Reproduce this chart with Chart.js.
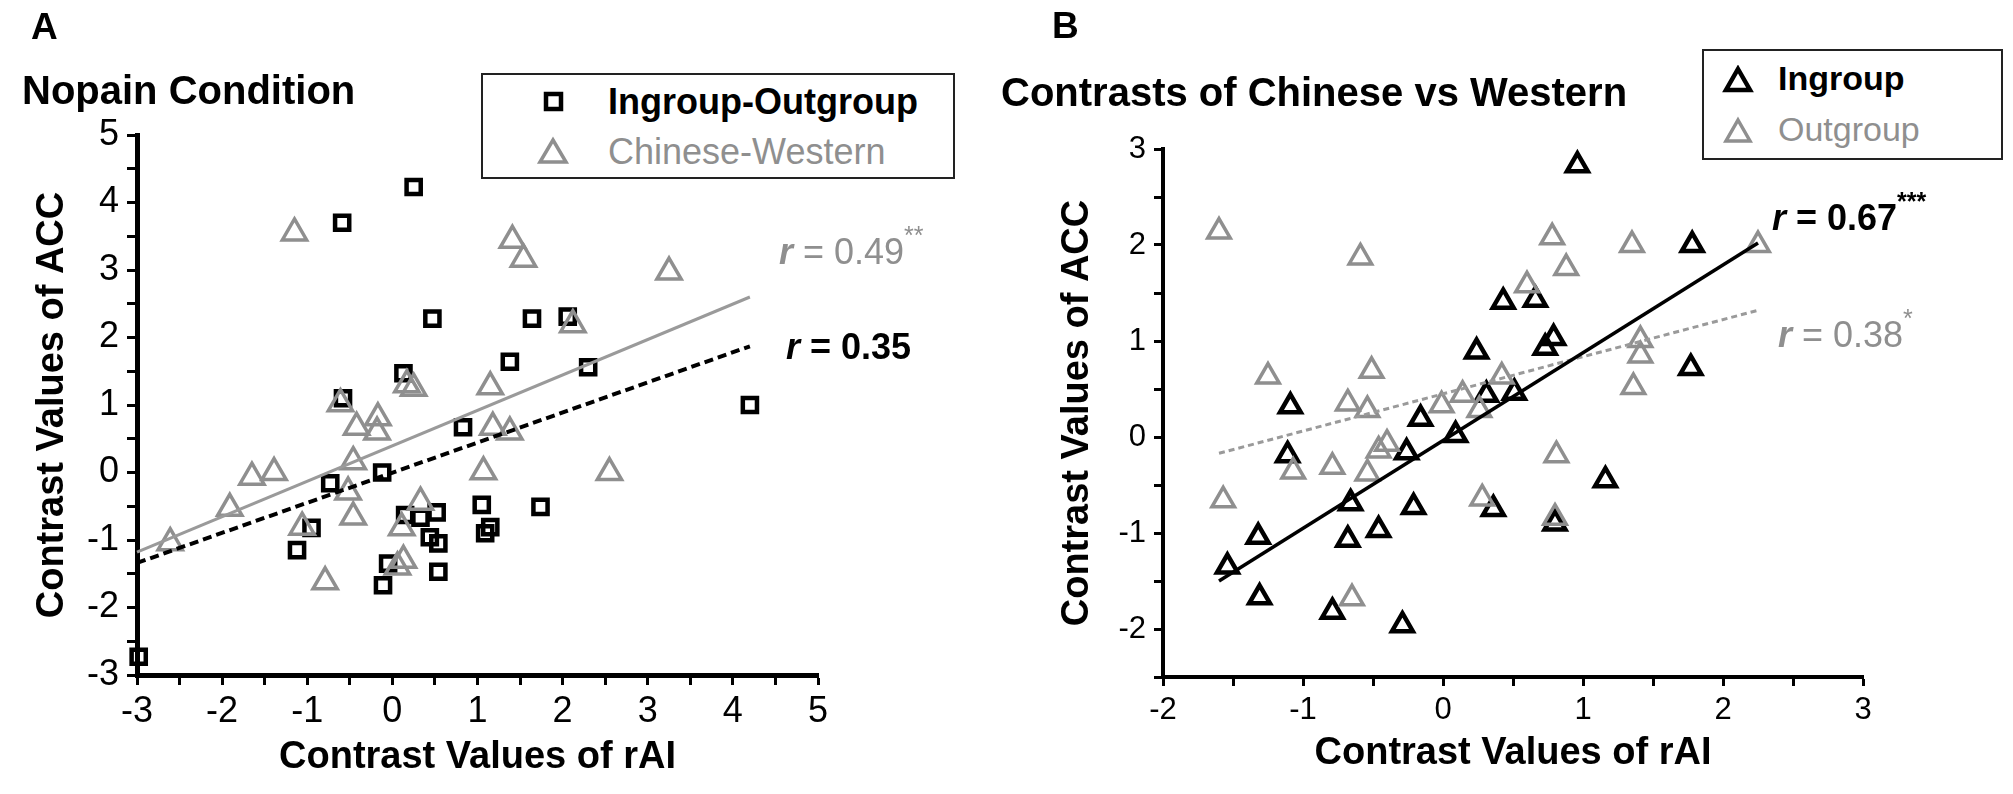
<!DOCTYPE html>
<html lang="en">
<head>
<meta charset="UTF-8" />
<title>Contrast values of rAI and ACC</title>
<script src="https://cdn.jsdelivr.net/npm/chart.js"></script>
<style>
  body { margin: 0; background: #fff; }
  #wrap { position: relative; width: 2013px; height: 794px; overflow: hidden;
          font-family: "Liberation Sans", Arial, sans-serif; color: #000; }
  canvas { position: absolute; top: 0; }
  #chartA { left: 0; }
  #chartB { left: 1000px; }
  .txt { position: absolute; white-space: nowrap; line-height: 1; }
  .panel { font-weight: bold; font-size: 37px; }
  .title { font-weight: bold; font-size: 40px; }
  .legend { position: absolute; border: 2px solid #222; box-sizing: border-box; background: #fff; }
  .gray { color: #8f8f8f; }
  .note { font-size: 36px; }
  .note sup { font-size: 25px; position: relative; top: -7px; }
</style>
</head>
<body>
<div id="wrap">
  <canvas id="chartA" width="1000" height="794"></canvas>
  <canvas id="chartB" width="1013" height="794"></canvas>

  <div class="txt panel" style="left:31px; top:8px;">A</div>
  <div class="txt title" style="left:22px; top:70px;">Nopain Condition</div>
  <div class="txt panel" style="left:1052px; top:7px;">B</div>
  <div class="txt title" style="left:1001px; top:72px;">Contrasts of Chinese vs Western</div>

  <div class="legend" style="left:481px; top:73px; width:474px; height:106px;">
    <svg style="position:absolute; left:59px; top:15px;" width="24" height="24">
      <rect x="4" y="4" width="15" height="15" fill="none" stroke="#000" stroke-width="4.5"/></svg>
    <div class="txt" style="left:125px; top:9px; font-size:36px; font-weight:bold;">Ingroup-Outgroup</div>
    <svg style="position:absolute; left:53px; top:60px;" width="34" height="32">
      <polygon points="17,5 30,27 4,27" fill="none" stroke="#8f8f8f" stroke-width="3.5"/></svg>
    <div class="txt gray" style="left:125px; top:59px; font-size:36px;">Chinese-Western</div>
  </div>

  <div class="legend" style="left:1702px; top:49px; width:301px; height:111px;">
    <svg style="position:absolute; left:18px; top:14px;" width="32" height="30">
      <polygon points="16,4 28,25 4,25" fill="none" stroke="#000" stroke-width="4.5"/></svg>
    <div class="txt" style="left:74px; top:10px; font-size:34px; font-weight:bold;">Ingroup</div>
    <svg style="position:absolute; left:18px; top:65px;" width="32" height="30">
      <polygon points="16,4 28,25 4,25" fill="none" stroke="#8f8f8f" stroke-width="3.5"/></svg>
    <div class="txt gray" style="left:74px; top:61px; font-size:34px;">Outgroup</div>
  </div>

  <div class="txt note gray" style="left:779px; top:230px;"><b><i>r</i></b> = 0.49<sup>**</sup></div>
  <div class="txt note" style="left:786px; top:329px; font-weight:bold;"><i>r</i> = 0.35</div>
  <div class="txt note" style="left:1772px; top:196px; font-weight:bold;"><i>r</i> = 0.67<sup>***</sup></div>
  <div class="txt note gray" style="left:1778px; top:313px;"><b><i>r</i></b> = 0.38<sup>*</sup></div>
</div>

<script>
  // Panel A: Nopain condition
  const aSquareX = [0.25, -0.59, 0.47, 1.64, 2.06, 1.38, 2.30, 0.13, -0.58, 0.83, -0.73, -0.12, 4.20,
                    -1.12, -0.95, 0.15, 0.33, 0.52, 0.44, 0.54, 0.54, -0.05, -0.11, 1.05, 1.15, 1.09, 1.74, -2.98];
  const aSquareY = [4.23, 3.70, 2.28, 2.28, 2.31, 1.64, 1.56, 1.47, 1.10, 0.67, -0.16, 0.00, 1.00,
                    -1.15, -0.82, -0.63, -0.67, -0.59, -0.96, -1.05, -1.47, -1.35, -1.67, -0.48, -0.81, -0.90, -0.51, -2.73];
  const aTriX = [-1.15, 1.41, 1.54, 3.25, 2.12, 0.17, 0.25, 1.15, -0.61, -0.42, -0.17, -0.18, 1.18, 1.38, -0.46,
                 -1.65, -1.39, -1.91, -2.61, -0.52, 1.07, -0.46, -1.06, -0.79, 0.33, 0.11, 0.13, 0.06, 2.55];
  const aTriY = [3.55, 3.44, 3.16, 2.97, 2.19, 1.30, 1.25, 1.27, 1.02, 0.67, 0.81, 0.60, 0.67, 0.60, 0.16,
                 -0.07, 0.00, -0.53, -1.04, -0.29, 0.01, -0.66, -0.81, -1.62, -0.44, -0.82, -1.30, -1.40, 0.00];
  const aFitSquareX = [-3.0, 4.2];
  const aFitSquareY = [-1.34, 1.87];
  const aFitTriX = [-3.0, 4.2];
  const aFitTriY = [-1.18, 2.60];
  const aRangeX = [-3, 5];
  const aRangeY = [-3, 5];

  // Panel B: Chinese vs Western contrasts
  const bInX = [0.96, 0.43, 0.66, 0.79, 0.73, 0.24, -1.09, -0.16, 0.31, 0.51, 0.09, -1.11, -0.26, -0.66,
                -0.21, 0.36, -1.32, -0.68, -0.46, -1.54, -1.31, -0.79, -0.29, 1.16, 0.80, 1.78, 1.77];
  const bInY = [2.83, 1.41, 1.43, 1.03, 0.93, 0.89, 0.32, 0.19, 0.44, 0.46, 0.02, -0.19, -0.16, -0.69,
                -0.73, -0.75, -1.04, -1.07, -0.97, -1.35, -1.67, -1.82, -1.96, -0.45, -0.90, 2.00, 0.72];
  const bOutX = [-1.60, -0.59, -1.25, -0.51, 0.60, 0.78, 1.35, 0.88, 1.41, 1.41, 1.36, -0.68, -0.54, -0.01,
                 0.14, 0.42, 0.26, -1.07, -0.79, -0.46, -0.40, -0.54, -1.57, 0.28, -0.65, 0.81, 0.80, 2.25];
  const bOutY = [2.14, 1.87, 0.63, 0.69, 1.58, 2.08, 2.00, 1.76, 1.01, 0.85, 0.52, 0.35, 0.28, 0.33,
                 0.44, 0.63, 0.28, -0.36, -0.31, -0.14, -0.07, -0.38, -0.66, -0.64, -1.68, -0.19, -0.84, 2.00];
  const bFitInX = [-1.6, 2.25];
  const bFitInY = [-1.50, 2.02];
  const bFitOutX = [-1.6, 2.25];
  const bFitOutY = [-0.17, 1.32];
  const bRangeX = [-2, 3];
  const bRangeY = [-2.5, 3];

  const GRAY = '#8f8f8f';
  const FONT = '"Liberation Sans", Arial, sans-serif';

  const pts = (xs, ys) => xs.map((x, i) => ({ x: x, y: ys[i] }));
  const intLabel = v => Number.isInteger(v) ? String(v) : '';

  function axis(range, title, o) {
    return {
      type: 'linear',
      min: range[0],
      max: range[1],
      border: { display: true, color: '#000', width: o.border },
      grid: { drawOnChartArea: false, drawTicks: true, tickLength: o.tick, tickWidth: 3, tickColor: '#000' },
      ticks: { stepSize: 0.5, autoSkip: false, maxRotation: 0, padding: o.pad, color: '#000',
               font: { family: FONT, size: o.tickFont }, callback: intLabel },
      title: { display: true, text: title, color: '#000', padding: o.titlePad,
               font: { family: FONT, size: 38, weight: 'bold' } },
      afterFit: o.fit
    };
  }

  function pointSet(data, style, radius, color, width, order) {
    return { data: data, pointStyle: style, pointRadius: radius, pointHoverRadius: radius,
             borderColor: color, backgroundColor: 'rgba(0,0,0,0)', pointBorderWidth: width,
             borderWidth: width, showLine: false, order: order, clip: false };
  }

  function fitLine(data, color, width, dash, order) {
    return { data: data, showLine: true, borderColor: color, borderWidth: width, borderDash: dash,
             pointRadius: 0, fill: false, order: order, clip: false };
  }

  const baseOptions = {
    responsive: false,
    animation: false,
    events: [],
    plugins: { legend: { display: false }, tooltip: { enabled: false } }
  };

  new Chart(document.getElementById('chartA'), {
    type: 'scatter',
    data: {
      datasets: [
        pointSet(pts(aSquareX, aSquareY), 'rect', 10, '#000', 4.5, 3),
        pointSet(pts(aTriX, aTriY), 'triangle', 14, GRAY, 3.5, 2),
        fitLine(pts(aFitTriX, aFitTriY), '#9a9a9a', 3, [], 1),
        fitLine(pts(aFitSquareX, aFitSquareY), '#000', 4, [9, 5], 0)
      ]
    },
    options: Object.assign({}, baseOptions, {
      layout: { padding: { top: 135, right: 182, left: 0, bottom: 0 } },
      scales: {
        x: axis(aRangeX, 'Contrast Values of rAI',
                { border: 5, tick: 10, pad: 5, tickFont: 36, titlePad: { bottom: 14 },
                  fit: s => { s.height = 119; } }),
        y: axis(aRangeY, 'Contrast Values of ACC',
                { border: 5, tick: 10, pad: 8, tickFont: 36, titlePad: { top: 30 },
                  fit: s => { s.width = 137; } })
      }
    })
  });

  new Chart(document.getElementById('chartB'), {
    type: 'scatter',
    data: {
      datasets: [
        pointSet(pts(bInX, bInY), 'triangle', 12, '#000', 4.5, 3),
        pointSet(pts(bOutX, bOutY), 'triangle', 13, GRAY, 3.5, 2),
        fitLine(pts(bFitOutX, bFitOutY), '#9a9a9a', 3, [6, 4], 1),
        fitLine(pts(bFitInX, bFitInY), '#000', 3.5, [], 0)
      ]
    },
    options: Object.assign({}, baseOptions, {
      layout: { padding: { top: 149, right: 150, left: 0, bottom: 0 } },
      scales: {
        x: axis(bRangeX, 'Contrast Values of rAI',
                { border: 4, tick: 9, pad: 6, tickFont: 31, titlePad: { bottom: 18 },
                  fit: s => { s.height = 117; } }),
        y: axis(bRangeY, 'Contrast Values of ACC',
                { border: 4, tick: 9, pad: 8, tickFont: 31, titlePad: { top: 55 },
                  fit: s => { s.width = 163; } })
      }
    })
  });
</script>
</body>
</html>
